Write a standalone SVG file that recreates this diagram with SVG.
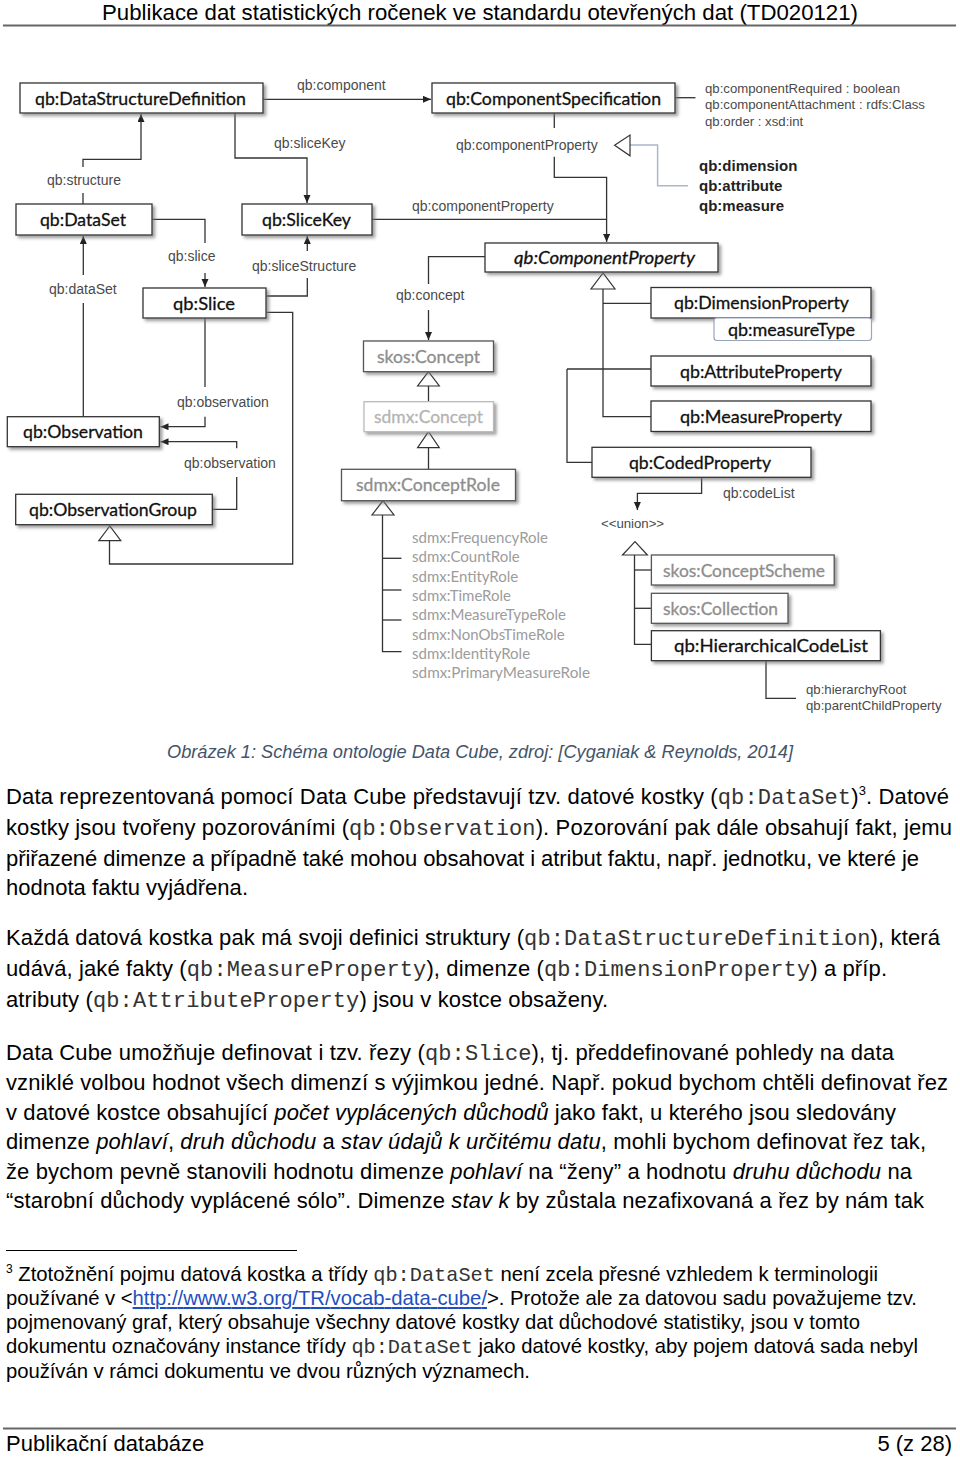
<svg xmlns="http://www.w3.org/2000/svg" width="960" height="1457" viewBox="0 0 960 1457">
<style>
.box{fill:#fff;stroke:#333;stroke-width:1.3}
.gbox{fill:#fff;stroke:#555;stroke-width:1.3}
.lbox{fill:#fff;stroke:#bbb;stroke-width:1.3}
.bt{font-family:Lato,"Open Sans",sans-serif;font-size:18px;fill:#111;stroke:#111;stroke-width:0.3}
.gt{fill:#8e8e8e;stroke:#8e8e8e}
.lt{fill:#b4b4b4;stroke:#b4b4b4}
.lbl{font-family:"Liberation Sans",Arial,sans-serif;font-size:14px;fill:#4a4a4a}
.att{font-family:"Liberation Sans",Arial,sans-serif;font-size:13.2px;fill:#4a4a4a}
.bold{font-family:"Liberation Sans",Arial,sans-serif;font-size:15px;font-weight:bold;fill:#222}
.role{font-family:Lato,"Open Sans",sans-serif;font-size:15px;fill:#9c9c9c}
.ln{fill:none;stroke:#333;stroke-width:1.3}
.bl{fill:none;stroke:#a9b8cc;stroke-width:1.5}
.tri{fill:#fff;stroke:#333;stroke-width:1.2}
.body{font-family:"Liberation Sans",Arial,sans-serif;font-size:22px;fill:#000}
.mono{font-family:"Liberation Mono","Courier New",monospace;fill:#333}
.it{font-style:italic}
.fn{font-family:"Liberation Sans",Arial,sans-serif;font-size:20.3px;fill:#000}
</style>
<defs>
<filter id="sh" x="-5%" y="-20%" width="115%" height="160%">
<feDropShadow dx="2.5" dy="2.5" stdDeviation="1.5" flood-color="#777" flood-opacity="0.7"/>
</filter>
<marker id="ar" markerWidth="9" markerHeight="8" refX="8" refY="3.5" orient="auto" markerUnits="userSpaceOnUse">
<path d="M0,0 L8,3.5 L0,7 z" fill="#222"/>
</marker>
</defs>

<!-- header -->
<text x="480" y="20" class="body" text-anchor="middle" textLength="756" lengthAdjust="spacingAndGlyphs">Publikace dat statistických ročenek ve standardu otevřených dat (TD020121)</text>
<line x1="3" y1="25.5" x2="956" y2="25.5" stroke="#666" stroke-width="2"/>

<!-- connectors -->
<g id="connectors">
<path class="ln" d="M263,99.3 H431" marker-end="url(#ar)"/>
<path class="ln" d="M235,113 V158 H307 V203" marker-end="url(#ar)"/>
<path class="ln" d="M83,204 V193"/>
<path class="ln" d="M83,167 V159.3 H141 V114" marker-end="url(#ar)"/>
<path class="ln" d="M152,219.3 H205 V243"/>
<path class="ln" d="M205,273 V287" marker-end="url(#ar)"/>
<path class="ln" d="M266,296 H307.3 V278"/>
<path class="ln" d="M307.3,251 V236" marker-end="url(#ar)"/>
<path class="ln" d="M83.3,417 V303"/>
<path class="ln" d="M83.3,275 V236" marker-end="url(#ar)"/>
<path class="ln" d="M205,318 V387"/>
<path class="ln" d="M205,416.7 V426.7 H160.5" marker-end="url(#ar)"/>
<path class="ln" d="M212,509.3 H236.7 V477"/>
<path class="ln" d="M236.7,448.3 V441.7 H160.5" marker-end="url(#ar)"/>
<path class="ln" d="M266.5,312.3 H292.7 V564 H109.5 V540.7"/>
<polygon class="tri" points="109.8,526 98.8,540.7 120.8,540.7"/>
<path class="ln" d="M554.3,113 V128"/>
<path class="ln" d="M554.3,156.7 V177.3 H606.6 V242" marker-end="url(#ar)"/>
<path class="ln" d="M372,219.3 H606.6"/>
<path class="ln" d="M675.5,97.7 H695.5"/>
<path class="bl" d="M630,145 H657.6 V185.7 H688"/>
<polygon class="tri" points="614.6,145.3 630,135 630,155.8"/>
<path class="ln" d="M485,256.7 H428.5 V284"/>
<path class="ln" d="M428.5,310 V340" marker-end="url(#ar)"/>
<polygon class="tri" points="603,273 591,289 615,289"/>
<path class="ln" d="M603,289 V416.7 H651"/>
<path class="ln" d="M603,303.3 H651"/>
<path class="ln" d="M567,369 H651"/>
<path class="ln" d="M567,369 V462.3 H592"/>
<path class="ln" d="M701.6,477.3 V493.3 H637.4 V510" marker-end="url(#ar)"/>
<polygon class="tri" points="635,541.7 622.5,555 647.4,555"/>
<path class="ln" d="M634.5,555 V644.3 H651.4"/>
<path class="ln" d="M634.5,570 H651.4"/>
<path class="ln" d="M634.5,608.3 H651.4"/>
<path class="ln" d="M766,660.7 V698.3 H796"/>
<polygon class="tri" points="428.5,371.7 417.6,386 439.3,386"/>
<path class="ln" d="M428.5,386 V401.7"/>
<polygon class="tri" points="428.5,431.7 417.6,447.7 439.3,447.7"/>
<path class="ln" d="M428.5,447.7 V469.3"/>
<polygon class="tri" points="383,500.7 372,515 394,515"/>
<path class="ln" d="M382.5,515 V651.7 H401.5"/>
<path class="ln" d="M382.5,558.3 H401.5"/>
<path class="ln" d="M382.5,590 H401.5"/>
<path class="ln" d="M382.5,620 H401.5"/>
</g>

<!-- connector labels -->
<g id="labels">
<text class="lbl" x="297" y="90">qb:component</text>
<text class="lbl" x="274" y="148">qb:sliceKey</text>
<text class="lbl" x="47" y="185">qb:structure</text>
<text class="lbl" x="168" y="261">qb:slice</text>
<text class="lbl" x="252" y="271">qb:sliceStructure</text>
<text class="lbl" x="49" y="294">qb:dataSet</text>
<text class="lbl" x="177" y="407">qb:observation</text>
<text class="lbl" x="184" y="468">qb:observation</text>
<text class="lbl" x="456" y="150">qb:componentProperty</text>
<text class="lbl" x="412" y="211">qb:componentProperty</text>
<text class="lbl" x="396" y="300">qb:concept</text>
<text class="lbl" x="723" y="498">qb:codeList</text>
<text class="att" x="601" y="528">&lt;&lt;union&gt;&gt;</text>
<text class="att" x="705" y="93">qb:componentRequired : boolean</text>
<text class="att" x="705" y="109">qb:componentAttachment : rdfs:Class</text>
<text class="att" x="705" y="126">qb:order : xsd:int</text>
<text class="bold" x="699" y="171">qb:dimension</text>
<text class="bold" x="699" y="191">qb:attribute</text>
<text class="bold" x="699" y="211">qb:measure</text>
<text class="att" x="806" y="694">qb:hierarchyRoot</text>
<text class="att" x="806" y="710">qb:parentChildProperty</text>
<text class="role" x="412" y="543">sdmx:FrequencyRole</text>
<text class="role" x="412" y="562">sdmx:CountRole</text>
<text class="role" x="412" y="582">sdmx:EntityRole</text>
<text class="role" x="412" y="601">sdmx:TimeRole</text>
<text class="role" x="412" y="620">sdmx:MeasureTypeRole</text>
<text class="role" x="412" y="640">sdmx:NonObsTimeRole</text>
<text class="role" x="412" y="659">sdmx:IdentityRole</text>
<text class="role" x="412" y="678" textLength="178" lengthAdjust="spacingAndGlyphs">sdmx:PrimaryMeasureRole</text>
</g>

<!-- nodes -->
<g id="n-dsd"><rect class="box" x="20" y="83" width="243" height="30" filter="url(#sh)"/><text class="bt" x="35" y="104.5" textLength="211" lengthAdjust="spacingAndGlyphs">qb:DataStructureDefinition</text></g>
<g id="n-compspec"><rect class="box" x="432" y="83" width="243" height="30" filter="url(#sh)"/><text class="bt" x="446" y="104.5" textLength="215" lengthAdjust="spacingAndGlyphs">qb:ComponentSpecification</text></g>
<g id="n-dataset"><rect class="box" x="16" y="204" width="136" height="31" filter="url(#sh)"/><text class="bt" x="40" y="225.5" textLength="86" lengthAdjust="spacingAndGlyphs">qb:DataSet</text></g>
<g id="n-slicekey"><rect class="box" x="242" y="204" width="130" height="31" filter="url(#sh)"/><text class="bt" x="262" y="225.5" textLength="89" lengthAdjust="spacingAndGlyphs">qb:SliceKey</text></g>
<g id="n-slice"><rect class="box" x="143" y="288" width="123" height="30" filter="url(#sh)"/><text class="bt" x="173" y="309.5" textLength="62" lengthAdjust="spacingAndGlyphs">qb:Slice</text></g>
<g id="n-compprop"><rect class="box" x="485" y="243" width="233" height="29" filter="url(#sh)"/><text class="bt it" x="514" y="264" textLength="181" lengthAdjust="spacingAndGlyphs">qb:ComponentProperty</text></g>
<g id="n-dimprop"><rect class="box" x="651" y="287.5" width="220" height="30.5" filter="url(#sh)"/><rect x="714" y="318" width="157.5" height="22.5" rx="3" fill="#fff" stroke="#9aa6b8" stroke-width="1.2"/><text class="bt" x="674" y="309" textLength="175" lengthAdjust="spacingAndGlyphs">qb:DimensionProperty</text><text class="bt" x="728" y="336" textLength="127" lengthAdjust="spacingAndGlyphs">qb:measureType</text></g>
<g id="n-attrprop"><rect class="box" x="651" y="356" width="220" height="30" filter="url(#sh)"/><text class="bt" x="680" y="377.5" textLength="162" lengthAdjust="spacingAndGlyphs">qb:AttributeProperty</text></g>
<g id="n-measprop"><rect class="box" x="651" y="401" width="220" height="30.5" filter="url(#sh)"/><text class="bt" x="680" y="422.5" textLength="162" lengthAdjust="spacingAndGlyphs">qb:MeasureProperty</text></g>
<g id="n-coded"><rect class="box" x="592" y="447.3" width="219" height="30" filter="url(#sh)"/><text class="bt" x="629" y="468.5" textLength="142" lengthAdjust="spacingAndGlyphs">qb:CodedProperty</text></g>
<g id="n-skosconcept"><rect class="gbox" x="363.5" y="341" width="130" height="30.7" filter="url(#sh)"/><text class="bt gt" x="377" y="362.5" textLength="103" lengthAdjust="spacingAndGlyphs">skos:Concept</text></g>
<g id="n-sdmxconcept"><rect class="lbox" x="364" y="401.7" width="129.5" height="30" filter="url(#sh)"/><text class="bt lt" x="374" y="423" textLength="109" lengthAdjust="spacingAndGlyphs">sdmx:Concept</text></g>
<g id="n-conceptrole"><rect class="gbox" x="341.5" y="469.3" width="174" height="31.4" filter="url(#sh)"/><text class="bt gt" x="356" y="491" textLength="144" lengthAdjust="spacingAndGlyphs">sdmx:ConceptRole</text></g>
<g id="n-observation"><rect class="box" x="7.3" y="416.7" width="152" height="30" filter="url(#sh)"/><text class="bt" x="23" y="438" textLength="120" lengthAdjust="spacingAndGlyphs">qb:Observation</text></g>
<g id="n-obsgroup"><rect class="box" x="15.7" y="494.3" width="196.6" height="30.4" filter="url(#sh)"/><text class="bt" x="29" y="516" textLength="168" lengthAdjust="spacingAndGlyphs">qb:ObservationGroup</text></g>
<g id="n-conceptscheme"><rect class="gbox" x="651.4" y="555" width="182.8" height="30" filter="url(#sh)"/><text class="bt gt" x="663" y="576.5" textLength="162" lengthAdjust="spacingAndGlyphs">skos:ConceptScheme</text></g>
<g id="n-collection"><rect class="gbox" x="651.4" y="593.3" width="136.6" height="30" filter="url(#sh)"/><text class="bt gt" x="663" y="615" textLength="115" lengthAdjust="spacingAndGlyphs">skos:Collection</text></g>
<g id="n-hcl"><rect class="box" x="651.4" y="630.7" width="229" height="30" filter="url(#sh)"/><text class="bt" x="674" y="652" textLength="194" lengthAdjust="spacingAndGlyphs">qb:HierarchicalCodeList</text></g>

<!-- caption -->
<text x="167" y="758" font-family="'Liberation Sans',Arial,sans-serif" font-size="19" font-style="italic" fill="#44546a" textLength="626" lengthAdjust="spacingAndGlyphs">Obrázek 1: Schéma ontologie Data Cube, zdroj: [Cyganiak &amp; Reynolds, 2014]</text>

<!-- paragraph 1 -->
<text class="body" x="6" y="804" textLength="943">Data reprezentovaná pomocí Data Cube představují tzv. datové kostky (<tspan class="mono">qb:DataSet</tspan>)<tspan font-size="13" dy="-9">3</tspan><tspan dy="9">. Datové</tspan></text>
<text class="body" x="6" y="835" textLength="946">kostky jsou tvořeny pozorováními (<tspan class="mono">qb:Observation</tspan>). Pozorování pak dále obsahují fakt, jemu</text>
<text class="body" x="6" y="866" textLength="913">přiřazené dimenze a případně také mohou obsahovat i atribut faktu, např. jednotku, ve které je</text>
<text class="body" x="6" y="895" textLength="242">hodnota faktu vyjádřena.</text>

<!-- paragraph 2 -->
<text class="body" x="6" y="945" textLength="934">Každá datová kostka pak má svoji definici struktury (<tspan class="mono">qb:DataStructureDefinition</tspan>), která</text>
<text class="body" x="6" y="976" textLength="881">udává, jaké fakty (<tspan class="mono">qb:MeasureProperty</tspan>), dimenze (<tspan class="mono">qb:DimensionProperty</tspan>) a příp.</text>
<text class="body" x="6" y="1007" textLength="602">atributy (<tspan class="mono">qb:AttributeProperty</tspan>) jsou v kostce obsaženy.</text>

<!-- paragraph 3 -->
<text class="body" x="6" y="1060" textLength="888">Data Cube umožňuje definovat i tzv. řezy (<tspan class="mono">qb:Slice</tspan>), tj. předdefinované pohledy na data</text>
<text class="body" x="6" y="1090" textLength="942">vzniklé volbou hodnot všech dimenzí s výjimkou jedné. Např. pokud bychom chtěli definovat řez</text>
<text class="body" x="6" y="1120" textLength="890">v datové kostce obsahující <tspan class="it">počet vyplácených důchodů</tspan> jako fakt, u kterého jsou sledovány</text>
<text class="body" x="6" y="1149" textLength="920">dimenze <tspan class="it">pohlaví</tspan>, <tspan class="it">druh důchodu</tspan> a <tspan class="it">stav údajů k určitému datu</tspan>, mohli bychom definovat řez tak,</text>
<text class="body" x="6" y="1179" textLength="906">že bychom pevně stanovili hodnotu dimenze <tspan class="it">pohlaví</tspan> na “ženy” a hodnotu <tspan class="it">druhu důchodu</tspan> na</text>
<text class="body" x="6" y="1208" textLength="918">“starobní důchody vyplácené sólo”. Dimenze <tspan class="it">stav k</tspan> by zůstala nezafixovaná a řez by nám tak</text>

<!-- footnote -->
<line x1="6" y1="1250.5" x2="297" y2="1250.5" stroke="#000" stroke-width="1"/>
<text class="fn" x="6" y="1281" textLength="872"><tspan font-size="12" dy="-8">3</tspan><tspan dy="8"> Ztotožnění pojmu datová kostka a třídy </tspan><tspan class="mono">qb:DataSet</tspan> není zcela přesné vzhledem k terminologii</text>
<text class="fn" x="6" y="1305" textLength="911">používané v &lt;<tspan fill="#1f4fbf" text-decoration="underline">http://www.w3.org/TR/vocab-data-cube/</tspan>&gt;. Protože ale za datovou sadu považujeme tzv.</text>
<text class="fn" x="6" y="1329" textLength="854">pojmenovaný graf, který obsahuje všechny datové kostky dat důchodové statistiky, jsou v tomto</text>
<text class="fn" x="6" y="1353" textLength="912">dokumentu označovány instance třídy <tspan class="mono">qb:DataSet</tspan> jako datové kostky, aby pojem datová sada nebyl</text>
<text class="fn" x="6" y="1378" textLength="524">používán v rámci dokumentu ve dvou různých významech.</text>

<!-- footer -->
<line x1="3" y1="1428.5" x2="956" y2="1428.5" stroke="#666" stroke-width="2"/>
<text class="body" x="6" y="1451">Publikační databáze</text>
<text class="body" x="952" y="1451" text-anchor="end">5 (z 28)</text>
</svg>
